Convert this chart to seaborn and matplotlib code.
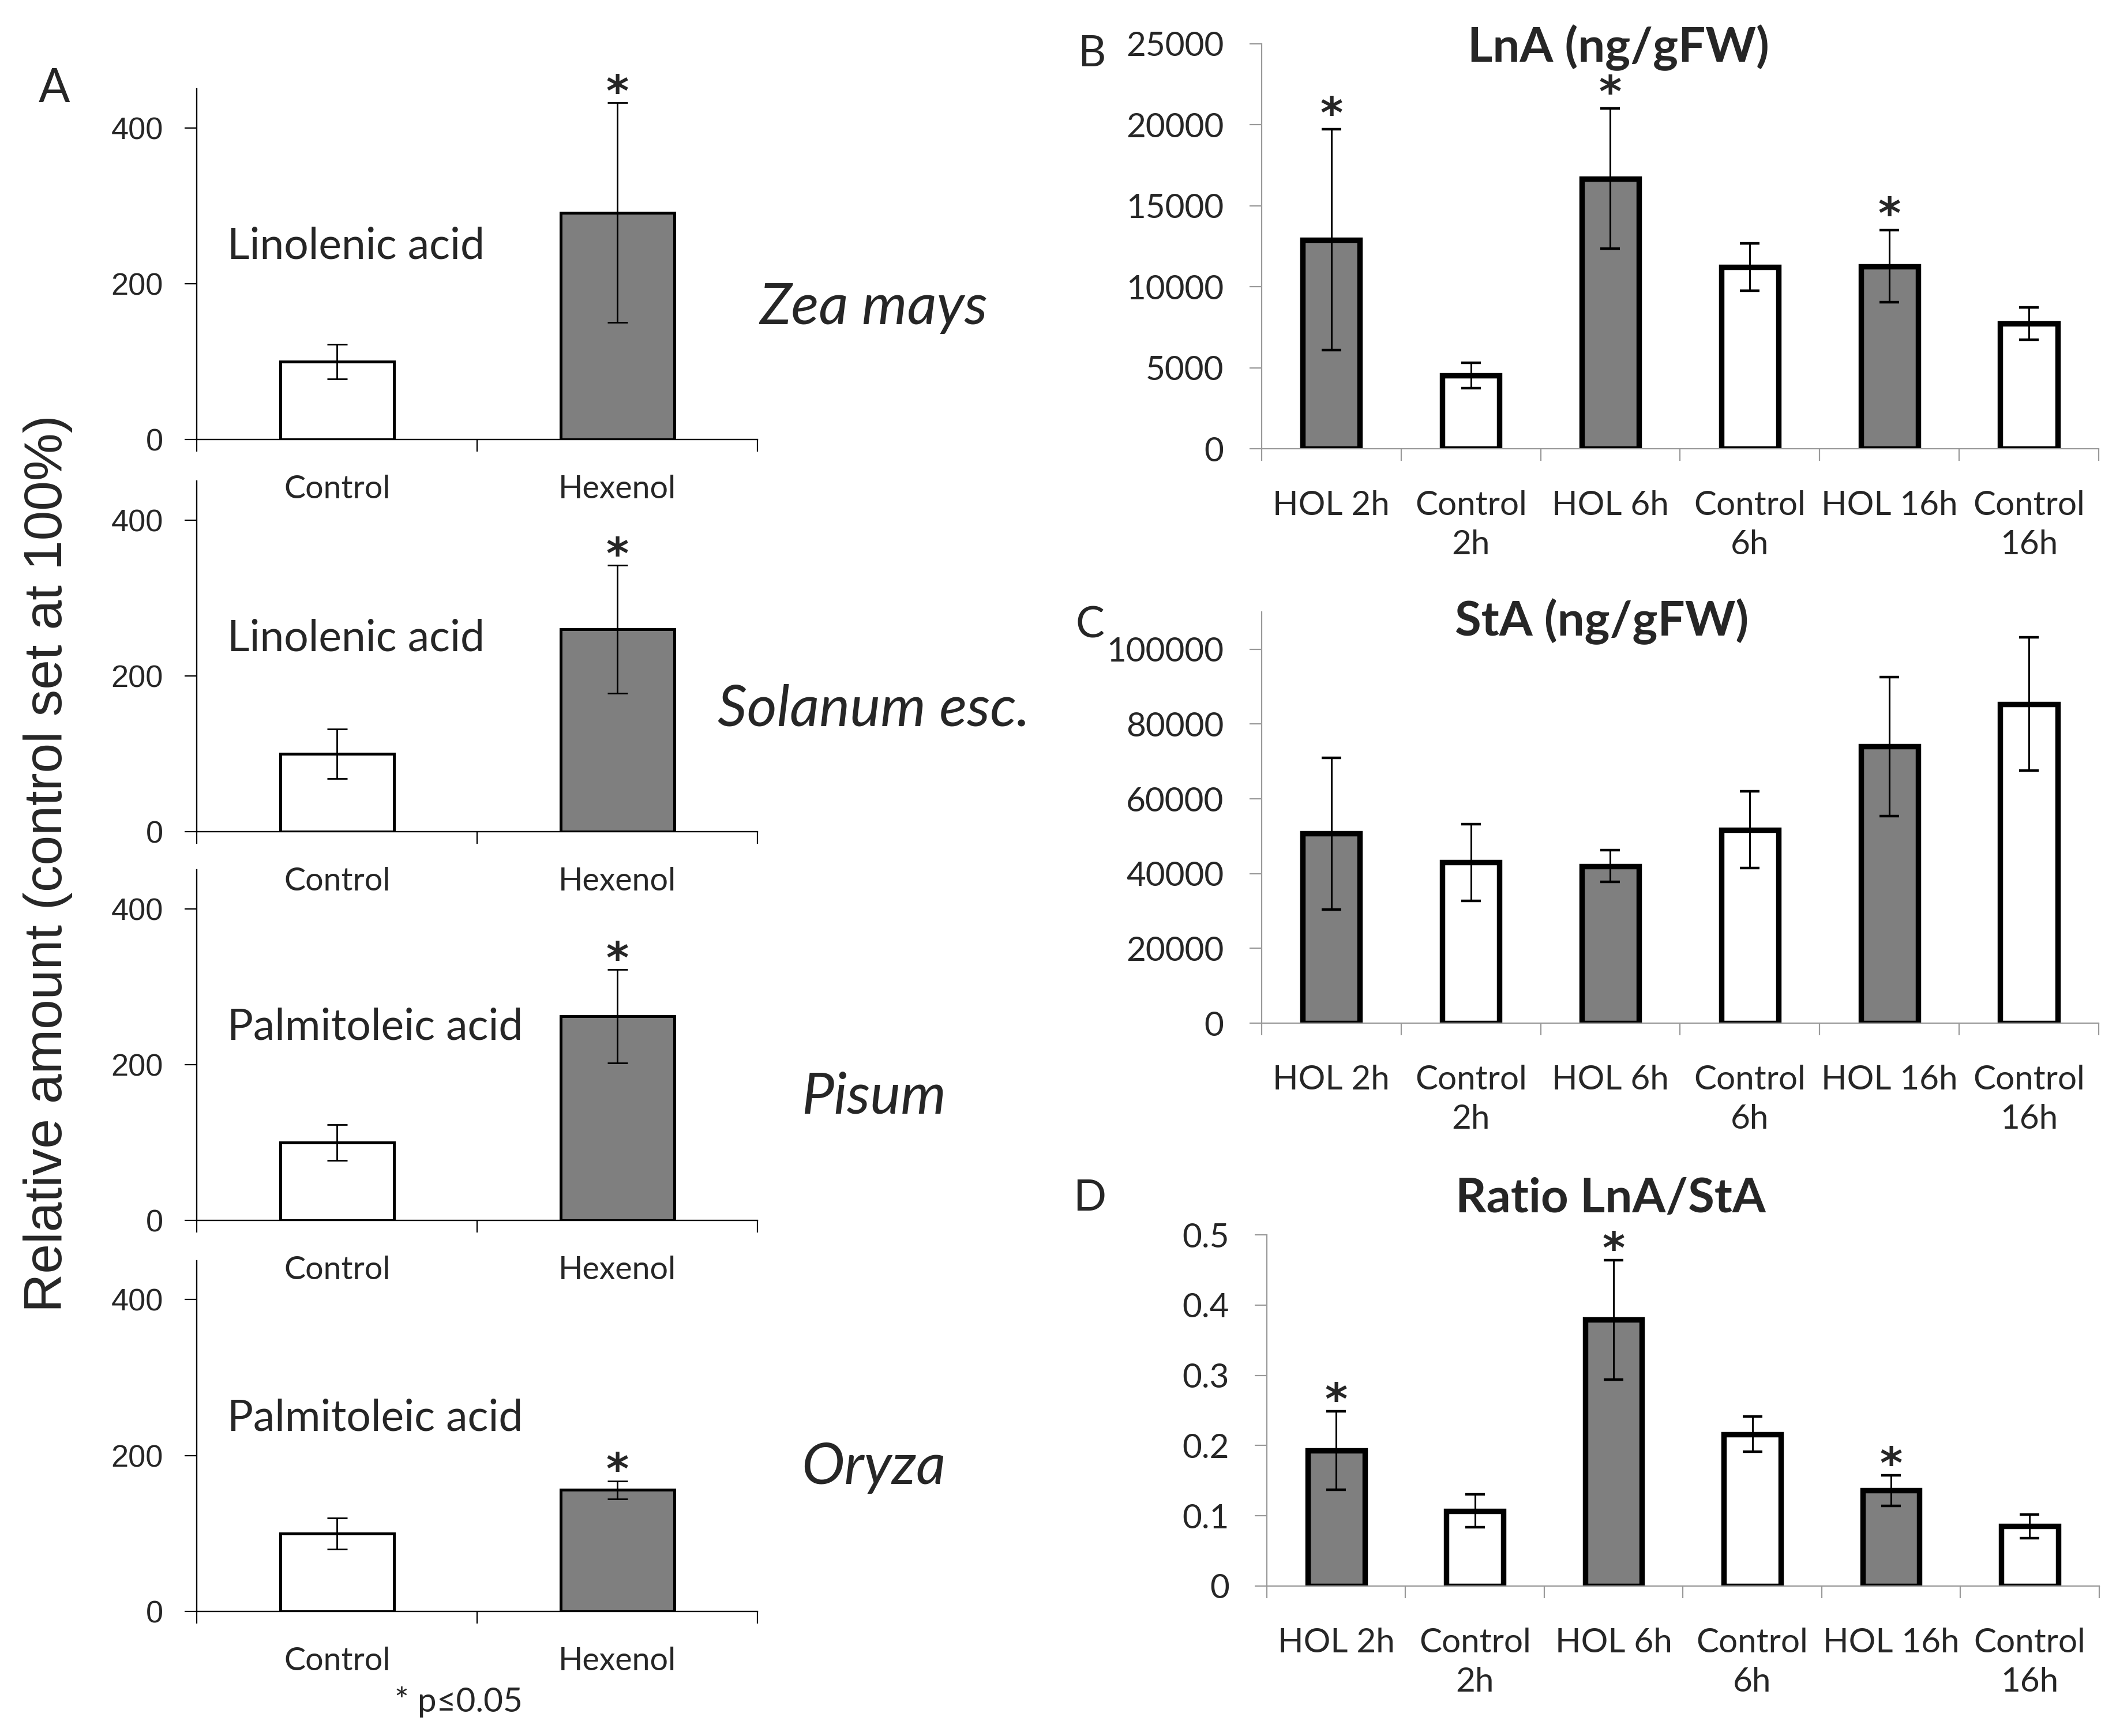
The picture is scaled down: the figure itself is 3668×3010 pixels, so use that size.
import matplotlib
matplotlib.use("Agg")
import matplotlib.pyplot as plt
from matplotlib.ticker import FuncFormatter
import seaborn as sns

# ---- data ----
a_groups = ["Control", "Hexenol"]
a_species = ["Zea mays", "Solanum esc.", "Pisum", "Oryza"]
a_acids = ["Linolenic acid", "Linolenic acid", "Palmitoleic acid", "Palmitoleic acid"]
a_means = [[100, 291], [100, 260], [100, 262], [100, 156]]
a_errs = [[22, 141], [32, 82], [23, 60], [20, 11.5]]
a_sig = [[False, True], [False, True], [False, True], [False, True]]

time_labels = ["HOL 2h", "Control\n2h", "HOL 6h", "Control\n6h", "HOL 16h", "Control\n16h"]
lna_mean = [12900, 4520, 16670, 11210, 11260, 7720]
lna_err = [6800, 780, 4330, 1450, 2230, 1000]
lna_sig = [True, False, True, False, True, False]
sta_mean = [50740, 43030, 42040, 51730, 73990, 85360]
sta_err = [20280, 10240, 4200, 10240, 18550, 17800]
sta_sig = [False, False, False, False, False, False]
ratio_mean = [0.193, 0.107, 0.379, 0.216, 0.136, 0.085]
ratio_err = [0.056, 0.0235, 0.085, 0.025, 0.022, 0.0165]
ratio_sig = [True, False, True, False, True, False]

GRAY = "#7f7f7f"
sns.set_style("ticks")
plt.rcParams["font.family"] = ["Lato", "DejaVu Sans"]
STAR_FONT = ["DejaVu Sans"]
ARIAL = ["Liberation Sans", "DejaVu Sans"]

fig = plt.figure(figsize=(18.34, 15.05), dpi=200)
fmt = FuncFormatter(lambda v, _: f"{v:g}")

# ---- panel A: four small species plots ----
a_bottoms = [0.7468, 0.5209, 0.2970, 0.0718]
species_y = [0.375, 0.348, 0.351, 0.41]
a_colors = {"Control": "white", "Hexenol": GRAY}
for i in range(4):
    ax = fig.add_axes([0.093, a_bottoms[i], 0.265, 0.202])
    ax.patch.set_visible(False)
    sns.barplot(x=a_groups, y=a_means[i], hue=a_groups, palette=a_colors, width=0.405,
                edgecolor="black", linewidth=1.8, legend=False, ax=ax)
    ax.errorbar(range(2), a_means[i], yerr=a_errs[i], fmt="none", ecolor="black",
                elinewidth=1.0, capsize=6.3, capthick=1.0)
    ax.set_ylim(0, 450)
    ax.set_yticks([0, 200, 400])
    ax.yaxis.set_major_formatter(fmt)
    ax.set_xlim(-0.5, 1.5)
    ax.set_xticks([-0.5, 0.5, 1.5], labels=["", "", ""])
    ax.set_xticks([0, 1], labels=a_groups, minor=True)
    ax.tick_params(axis="x", which="minor", length=0, pad=22, labelsize=20)
    ax.tick_params(axis="x", which="major", length=7.5, width=0.8, color="black")
    ax.tick_params(axis="y", length=7.5, width=0.8, pad=13.5, labelsize=19.5, color="black")
    for lab in ax.get_yticklabels():
        lab.set_family(ARIAL)
    for s in ["top", "right"]:
        ax.spines[s].set_visible(False)
    for s in ["left", "bottom"]:
        ax.spines[s].set_color("black")
        ax.spines[s].set_linewidth(0.85)
    ax.set_xlabel("")
    ax.set_ylabel("")
    ax.text(0.0545, 0.551, a_acids[i], transform=ax.transAxes, size=27, va="center")
    ax.text(1.207, species_y[i], a_species[i], transform=ax.transAxes, style="italic",
            size=36, ha="center", va="center")
    for j in range(2):
        if a_sig[i][j]:
            ax.annotate("*", (j, a_means[i][j] + a_errs[i][j]), xytext=(0, -2),
                        textcoords="offset points", ha="center", va="baseline",
                        size=27, weight="bold", family=STAR_FONT)

fig.text(0.0256, 0.949, "A", size=29, ha="center", va="center")
fig.text(0.0225, 0.5025, "Relative amount (control set at 100%)", rotation=90,
         family=ARIAL, size=33.5, ha="center", va="center")
fig.text(0.2168, 0.0196, "* p\u22640.05", size=21, ha="center", va="center")

# ---- panels B, C, D: time course ----
t_colors = {lab: (GRAY if lab.startswith("HOL") else "white") for lab in time_labels}
panels = [
    ([0.5962, 0.7415, 0.3956, 0.2334], lna_mean, lna_err, lna_sig, 25000, 5000, 25000,
     "LnA (ng/gFW)", 0.4266, 0.99, "B", (0.516, 0.969), 1),
    ([0.5962, 0.4106, 0.3956, 0.2369], sta_mean, sta_err, sta_sig, 110000, 20000, 100000,
     "StA (ng/gFW)", 0.4066, 0.977, "C", (0.515, 0.640), 1),
    ([0.5987, 0.0864, 0.3933, 0.2023], ratio_mean, ratio_err, ratio_sig, 0.5, 0.1, 0.5,
     "Ratio LnA/StA", 0.413, 1.103, "D", (0.515, 0.3097), -2),
]
n = len(time_labels)
for pos, means, errs, sig, ytop, ystep, ymaxtick, title, tx, ty, letter, lxy, star_dy in panels:
    ax = fig.add_axes(pos)
    ax.patch.set_visible(False)
    sns.barplot(x=time_labels, y=means, hue=time_labels, palette=t_colors, width=0.41,
                edgecolor="black", linewidth=3.4, legend=False, ax=ax)
    ax.errorbar(range(n), means, yerr=errs, fmt="none", ecolor="black",
                elinewidth=1.1, capsize=6, capthick=1.6)
    ax.set_ylim(0, ytop)
    nt = int(round(ymaxtick / ystep))
    ax.set_yticks([k * ystep for k in range(nt + 1)])
    ax.yaxis.set_major_formatter(fmt)
    ax.set_xlim(-0.5, n - 0.5)
    ax.set_xticks([k - 0.5 for k in range(n + 1)], labels=[""] * (n + 1))
    ax.set_xticks(range(n), labels=time_labels, minor=True)
    for lab in ax.get_xticklabels(minor=True):
        lab.set_linespacing(1.35)
    ax.tick_params(axis="x", which="minor", length=0, pad=26, labelsize=21)
    ax.tick_params(axis="x", which="major", length=7.5, width=0.8, color="#999999")
    ax.tick_params(axis="y", length=7.5, width=0.8, pad=16, labelsize=21, color="#999999")
    for s in ["top", "right"]:
        ax.spines[s].set_visible(False)
    for s in ["left", "bottom"]:
        ax.spines[s].set_color("#999999")
        ax.spines[s].set_linewidth(0.8)
    ax.set_xlabel("")
    ax.set_ylabel("")
    ax.text(tx, ty, title, transform=ax.transAxes, size=30, weight="bold",
            ha="center", va="center")
    fig.text(lxy[0], lxy[1], letter, size=27, ha="center", va="center")
    for j in range(n):
        if sig[j]:
            ax.annotate("*", (j, means[j] + errs[j]), xytext=(0, star_dy),
                        textcoords="offset points", ha="center", va="baseline",
                        size=27, weight="bold", family=STAR_FONT)

fig.savefig("out.png", dpi=200, facecolor="white")
